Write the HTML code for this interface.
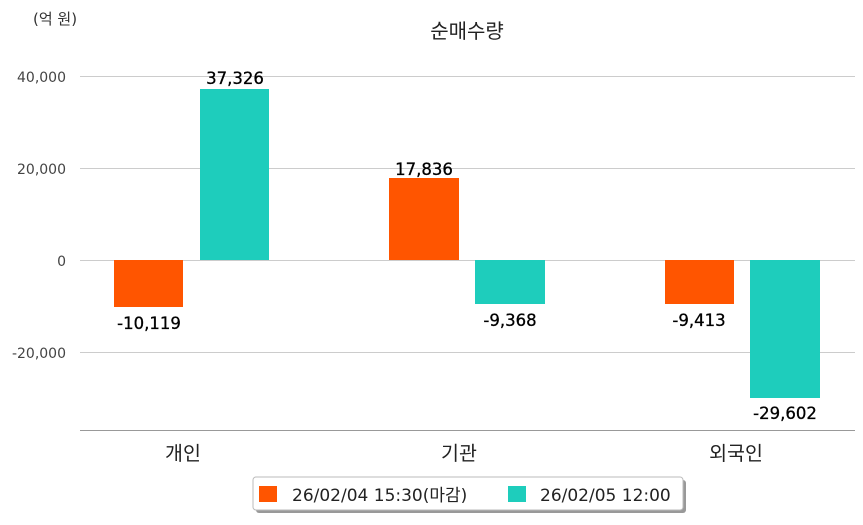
<!DOCTYPE html>
<html><head><meta charset="utf-8"><style>
body{margin:0;background:#fff;width:863px;height:520px;overflow:hidden}
</style></head><body>
<svg width="863" height="520" xmlns="http://www.w3.org/2000/svg" font-family="'DejaVu Sans','Noto Sans CJK KR',sans-serif">
<text x="33" y="24" font-size="15" fill="#333">(억 원)</text>
<text x="467" y="38" font-size="20" text-anchor="middle" fill="#222">순매수량</text>
<g stroke="#ccc" stroke-width="1">
<line x1="80" y1="76.5" x2="855" y2="76.5"/>
<line x1="80" y1="168.5" x2="855" y2="168.5"/>
<line x1="80" y1="260.5" x2="855" y2="260.5"/>
<line x1="80" y1="352.5" x2="855" y2="352.5"/>
</g>
<line x1="80" y1="430.5" x2="855" y2="430.5" stroke="#999"/>
<g font-size="14" fill="#444" text-anchor="end">
<text x="66" y="82">40,000</text><text x="66" y="174">20,000</text><text x="66" y="266">0</text><text x="66" y="358">-20,000</text>
</g>
<g fill="#ff5500">
<rect x="114" y="260" width="69" height="47"/>
<rect x="389" y="178" width="70" height="82"/>
<rect x="665" y="260" width="69" height="44"/>
</g>
<g fill="#1ecdbc">
<rect x="200" y="89" width="69" height="171"/>
<rect x="475" y="260" width="70" height="44"/>
<rect x="750" y="260" width="70" height="138"/>
</g>
<g font-size="16.5" fill="#000" text-anchor="middle" stroke="#000" stroke-width="0.3">
<text x="149" y="329">-10,119</text>
<text x="235" y="84">37,326</text>
<text x="424" y="175">17,836</text>
<text x="510" y="326">-9,368</text>
<text x="699" y="326">-9,413</text>
<text x="785" y="419">-29,602</text>
</g>
<g font-size="19.5" fill="#222" text-anchor="middle">
<text x="183" y="460">개인</text><text x="459" y="460">기관</text><text x="736" y="460">외국인</text>
</g>
<rect x="256" y="480" width="430" height="33" rx="3" fill="#999"/>
<rect x="253" y="477" width="430" height="33" rx="3" fill="#fff" stroke="#bbb"/>
<rect x="259" y="486" width="18" height="16" fill="#ff5500"/>
<text x="292" y="501" font-size="17" fill="#222">26/02/04 15:30(마감)</text>
<rect x="508" y="486" width="18" height="16" fill="#1ecdbc"/>
<text x="540" y="501" font-size="17" fill="#222">26/02/05 12:00</text>
</svg>
</body></html>
